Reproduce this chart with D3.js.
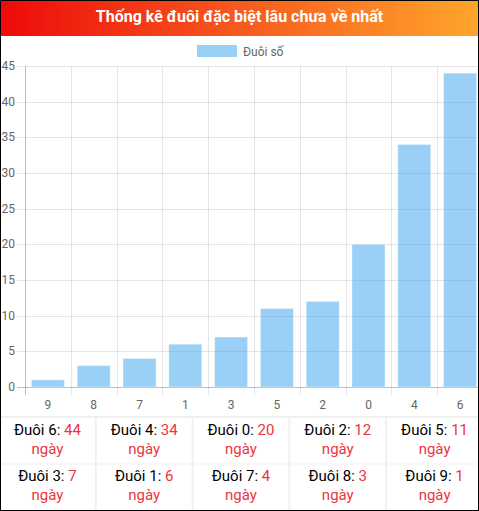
<!DOCTYPE html>
<html>
<head>
<meta charset="utf-8">
<script src="https://cdn.jsdelivr.net/npm/d3@7"></script>
<style>
  body { margin: 0; background: #fff; }
  svg { display: block; font-family: Roboto, "Noto Sans", sans-serif; }
</style>
</head>
<body>
<script>
// chart data
var tails = ["9", "8", "7", "1", "3", "5", "2", "0", "4", "6"];
var days = [1, 3, 4, 6, 7, 11, 12, 20, 34, 44];
var yTicks = [0, 5, 10, 15, 20, 25, 30, 35, 40, 45];
var titleText = "Thống kê đuôi đặc biệt lâu chưa về nhất";
var legendText = "Đuôi số";

var width = 479,
    height = 511;

var svg = d3.select("body")
    .append("svg")
    .attr("width", width)
    .attr("height", height);

// title gradient
var grad = svg.append("defs").append("linearGradient")
    .attr("id", "titleGrad")
    .attr("x1", "0%").attr("x2", "100%");
grad.append("stop").attr("offset", "0%").attr("stop-color", "#ee0a0a");
grad.append("stop").attr("offset", "50%").attr("stop-color", "#f65a1e");
grad.append("stop").attr("offset", "100%").attr("stop-color", "#ffa62b");

svg.append("rect")
    .attr("x", 0).attr("y", 0)
    .attr("width", width).attr("height", 36)
    .attr("fill", "url(#titleGrad)");

svg.append("text")
    .attr("x", width / 2)
    .attr("y", 22)
    .attr("text-anchor", "middle")
    .attr("fill", "#fff")
    .attr("font-size", 16)
    .attr("font-weight", "bold")
    .text(titleText);

// legend
svg.append("rect")
    .attr("x", 197).attr("y", 45)
    .attr("width", 40).attr("height", 12)
    .attr("fill", "rgba(54,162,235,0.5)");
svg.append("text")
    .attr("x", 243).attr("y", 55.5)
    .attr("fill", "#666")
    .attr("font-size", 12)
    .text(legendText);

// scales
var x = d3.scaleBand()
    .domain(tails)
    .range([25, 483]);

var y = d3.scaleLinear()
    .domain([0, 45])
    .range([387, 66]);

var grid = svg.append("g");

// horizontal grid lines with left tick marks
grid.selectAll(".hgrid")
    .data(yTicks)
    .enter()
    .append("line")
    .attr("x1", 17)
    .attr("x2", 483)
    .attr("y1", function(d){ return Math.round(y(d)) + 0.5; })
    .attr("y2", function(d){ return Math.round(y(d)) + 0.5; })
    .attr("stroke", function(d){ return d === 0 ? "rgba(0,0,0,0.25)" : "rgba(0,0,0,0.1)"; });

// vertical grid lines at category boundaries
var bounds = tails.map(function(t){ return x(t); }).concat([x.range()[1]]);
grid.selectAll(".vgrid")
    .data(bounds)
    .enter()
    .append("line")
    .attr("x1", function(d){ return Math.round(d) + 0.5; })
    .attr("x2", function(d){ return Math.round(d) + 0.5; })
    .attr("y1", 66)
    .attr("y2", 395)
    .attr("stroke", function(d, i){ return i === 0 ? "rgba(0,0,0,0.25)" : "rgba(0,0,0,0.1)"; });

// y tick labels
svg.selectAll(".ylab")
    .data(yTicks)
    .enter()
    .append("text")
    .attr("x", 15)
    .attr("y", function(d){ return y(d) + 4; })
    .attr("text-anchor", "end")
    .attr("fill", "#666")
    .attr("font-size", 12)
    .text(function(d){ return d; });

// x tick labels
svg.selectAll(".xlab")
    .data(tails)
    .enter()
    .append("text")
    .attr("x", function(d){ return x(d) + x.bandwidth() / 2; })
    .attr("y", 409)
    .attr("text-anchor", "middle")
    .attr("fill", "#666")
    .attr("font-size", 12)
    .text(function(d){ return d; });

// bars
var barW = x.bandwidth() * 0.72;
svg.selectAll(".bar")
    .data(tails)
    .enter()
    .append("rect")
    .attr("x", function(d){ return x(d) + (x.bandwidth() - barW) / 2; })
    .attr("y", function(d, i){ return y(days[i]); })
    .attr("width", barW)
    .attr("height", function(d, i){ return y(0) - y(days[i]); })
    .attr("fill", "rgba(54,162,235,0.5)")
    .attr("stroke", "rgba(255,255,255,0.35)")
    .attr("stroke-width", 1);

// table of tails, longest first
var order = d3.range(tails.length).sort(function(a, b){ return days[b] - days[a]; });

var table = svg.append("g");
table.append("rect")
    .attr("x", 0).attr("y", 416)
    .attr("width", width).attr("height", 95)
    .attr("fill", "#f0f0f0");

var colX = d3.scaleBand().domain(d3.range(5)).range([0, 482]).paddingInner(0.02);
var rowY = d3.scaleBand().domain([0, 1]).range([418, 510]).paddingInner(0.02);

var cells = table.selectAll(".cell")
    .data(order)
    .enter()
    .append("g")
    .attr("transform", function(d, i){
        return "translate(" + colX(i % 5) + "," + rowY(Math.floor(i / 5)) + ")";
    });

cells.append("rect")
    .attr("width", colX.bandwidth())
    .attr("height", rowY.bandwidth())
    .attr("fill", "#fff");

var line1 = cells.append("text")
    .attr("x", colX.bandwidth() / 2)
    .attr("y", 17)
    .attr("text-anchor", "middle")
    .attr("font-size", 15);
line1.append("tspan")
    .attr("fill", "#000")
    .text(function(d){ return "Đuôi " + tails[d] + ": "; });
line1.append("tspan")
    .attr("fill", "#ee3440")
    .text(function(d){ return days[d]; });

cells.append("text")
    .attr("x", colX.bandwidth() / 2)
    .attr("y", 36)
    .attr("text-anchor", "middle")
    .attr("font-size", 15)
    .attr("fill", "#ee3440")
    .text("ngày");

// outer border
svg.append("rect")
    .attr("x", 0.5).attr("y", 0.5)
    .attr("width", width - 1).attr("height", height - 1)
    .attr("fill", "none")
    .attr("stroke", "#000");
</script>
</body>
</html>
